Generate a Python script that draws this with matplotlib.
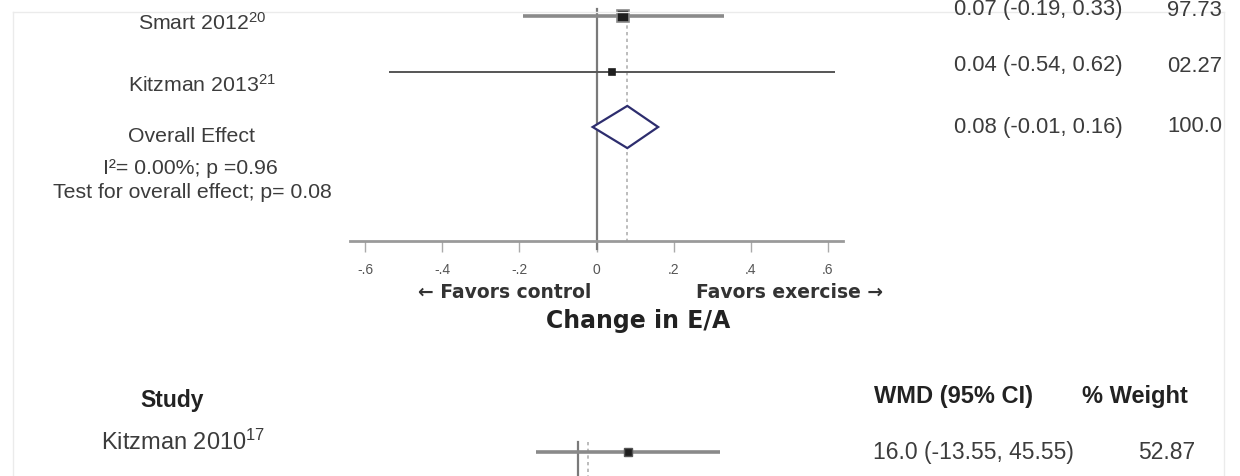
import matplotlib
matplotlib.use("Agg")
import matplotlib.pyplot as plt
from matplotlib.patches import Polygon
from matplotlib.lines import Line2D

# ---- data: change in E/A (top panel) ----
studies_top = ["Smart 2012", "Kitzman 2013"]
refs_top = ["20", "21"]
est_top = [0.07, 0.04]
lo_top = [-0.19, -0.54]
hi_top = [0.33, 0.62]
weight_labels_top = ["97.73", "02.27"]

overall_est = 0.08
overall_lo = -0.01
overall_hi = 0.16
overall_weight_label = "100.0"
heterogeneity = "I\u00b2= 0.00%; p =0.96"
overall_test = "Test for overall effect; p= 0.08"

xticks_top = [-0.6, -0.4, -0.2, 0.0, 0.2, 0.4, 0.6]
xtick_labels_top = ["-.6", "-.4", "-.2", "0", ".2", ".4", ".6"]

# ---- data: next panel (WMD) ----
studies_bot = ["Kitzman 2010"]
refs_bot = ["17"]
est_bot = [16.0]
lo_bot = [-13.55]
hi_bot = [45.55]
weight_labels_bot = ["52.87"]
pooled_bot = 3.2

W, H = 1240, 477
plt.rcParams["mathtext.fontset"] = "custom"
plt.rcParams["mathtext.rm"] = "Liberation Sans"
plt.rcParams["mathtext.default"] = "regular"

fig = plt.figure(figsize=(W / 100, H / 100), dpi=100)
fig.patch.set_facecolor("white")


def fx(x):
    return x / W


def fy(y):
    return 1 - y / H


REG = "Liberation Sans"
TXT = "#3c3c3c"
FS_TOP = 15.3
FS_BOT = 17

# light page frame
for xs, ys in [((13, 13), (13, H)), ((1224, 1224), (13, H)), ((13, 1224), (13, 13))]:
    fig.add_artist(Line2D([fx(v) for v in xs], [fy(v) for v in ys],
                          color="#ebebeb", lw=1.0, transform=fig.transFigure))

# ---- top forest panel ----
ax = fig.add_axes([fx(350), fy(242), fx(843) - fx(350), 242 / H])
row_h = 55.5
ax.set_xlim(-0.64, 0.64)
ax.set_ylim((242 - 17) / row_h, -17 / row_h)
for s in ["left", "right", "top"]:
    ax.spines[s].set_visible(False)
ax.spines["bottom"].set_color("#9a9a9a")
ax.spines["bottom"].set_linewidth(2.0)
ax.set_yticks([])
ax.set_xticks(xticks_top)
ax.set_xticklabels(xtick_labels_top, fontsize=10, color="#555555", family=REG)
ax.tick_params(axis="x", direction="out", length=8, width=1, color="#aaaaaa", pad=7)

ylo, yhi = ax.get_ylim()
# zero line and pooled-effect line
ax.plot([0, 0], [-0.12, ylo + 0.15], color="#7a7a7a", lw=1.6, clip_on=False, zorder=2)
ax.plot([overall_est, overall_est], [-0.08, ylo], color="#b0b0b0", lw=1.2,
        ls=(0, (2, 2)), zorder=1)

rows = list(range(len(studies_top)))
ci_lw = [2.6, 1.4]
ci_col = ["#8a8a8a", "#555555"]
msz = [8.5, 4.5]
for i in rows:
    ax.plot([lo_top[i], hi_top[i]], [i, i], color=ci_col[i], lw=ci_lw[i],
            solid_capstyle="butt", zorder=3)
    ax.plot(est_top[i], i, marker="s", ms=msz[i], mfc="#1e1e1e",
            mec="#8a8a8a" if i == 0 else "#1e1e1e", mew=1.2, zorder=4)

r_ov = len(studies_top)
dh = 0.38
diamond = Polygon([(overall_lo, r_ov), (overall_est, r_ov - dh),
                   (overall_hi, r_ov), (overall_est, r_ov + dh)],
                  closed=True, facecolor="white", edgecolor="#2d2d6e", lw=1.6, zorder=5)
ax.add_patch(diamond)

# left labels
label_y = [23, 85]
for i, name in enumerate(studies_top):
    fig.text(fx(202), fy(label_y[i]), f"{name}$^{{{refs_top[i]}}}$",
             ha="center", va="center", fontsize=FS_TOP, family=REG, color=TXT)
fig.text(fx(192), fy(137), "Overall Effect", ha="center", va="center",
         fontsize=FS_TOP, family=REG, color=TXT)
fig.text(fx(190), fy(169), heterogeneity, ha="center", va="center",
         fontsize=FS_TOP, family=REG, color=TXT)
fig.text(fx(192), fy(192), overall_test, ha="center", va="center",
         fontsize=FS_TOP, family=REG, color=TXT)

# right columns
right_y = [10, 66]
for i in rows:
    fig.text(fx(954), fy(right_y[i]),
             f"{est_top[i]:.2f} ({lo_top[i]:.2f}, {hi_top[i]:.2f})",
             ha="left", va="center", fontsize=15.8, family=REG, color=TXT)
    fig.text(fx(1222), fy(right_y[i]), weight_labels_top[i], ha="right",
             va="center", fontsize=15.8, family=REG, color=TXT)
fig.text(fx(954), fy(127), f"{overall_est:.2f} ({overall_lo:.2f}, {overall_hi:.2f})",
         ha="left", va="center", fontsize=15.8, family=REG, color=TXT)
fig.text(fx(1222), fy(127), overall_weight_label, ha="right", va="center",
         fontsize=15.8, family=REG, color=TXT)

# direction labels and axis title
fig.text(fx(505), fy(292), "\u2190 Favors control", ha="center", va="center",
         fontsize=13.5, family="DejaVu Sans", weight="bold", color="#333333")
fig.text(fx(790), fy(292), "Favors exercise \u2192", ha="center", va="center",
         fontsize=13.5, family="DejaVu Sans", weight="bold", color="#333333")
fig.text(fx(638), fy(321), "Change in E/A", ha="center", va="center",
         fontsize=17, family="DejaVu Sans", weight="bold", color="#222222")

# ---- next forest panel (partially visible) ----
ax2 = fig.add_axes([fx(450), fy(477), fx(843) - fx(450), (477 - 440) / H])
px_per_unit = 3.113
ax2.set_xlim((450 - 578) / px_per_unit, (843 - 578) / px_per_unit)
ax2.set_ylim((477 - 453) / row_h, (440 - 453) / row_h)
ax2.axis("off")
y2lo, _ = ax2.get_ylim()
ax2.plot([0, 0], [-0.18, y2lo], color="#7a7a7a", lw=1.6, zorder=2)
ax2.plot([pooled_bot, pooled_bot], [-0.18, y2lo], color="#b0b0b0", lw=1.2,
         ls=(0, (2, 2)), zorder=1)
for i in range(len(studies_bot)):
    ax2.plot([lo_bot[i], hi_bot[i]], [i, i], color="#8a8a8a", lw=2.6,
             solid_capstyle="butt", zorder=3)
    ax2.plot(est_bot[i], i, marker="s", ms=6, mfc="#1e1e1e", mec="#555555", zorder=4)

fig.text(fx(172), fy(401), "Study", ha="center", va="center", fontsize=16.5,
         family=REG, weight="bold", color="#222222")
fig.text(fx(953), fy(397), "WMD (95% CI)", ha="center", va="center", fontsize=17,
         family=REG, weight="bold", color="#222222")
fig.text(fx(1135), fy(397), "% Weight", ha="center", va="center", fontsize=17,
         family=REG, weight="bold", color="#222222")
for i, name in enumerate(studies_bot):
    fig.text(fx(183), fy(442), f"{name}$^{{{refs_bot[i]}}}$", ha="center",
             va="center", fontsize=FS_BOT, family=REG, color=TXT)
    fig.text(fx(973), fy(453), f"{est_bot[i]:.1f} ({lo_bot[i]:.2f}, {hi_bot[i]:.2f})",
             ha="center", va="center", fontsize=16.5, family=REG, color=TXT)
    fig.text(fx(1167), fy(453), weight_labels_bot[i], ha="center", va="center",
             fontsize=16.5, family=REG, color=TXT)

fig.savefig("out.png", dpi=100, facecolor="white")
